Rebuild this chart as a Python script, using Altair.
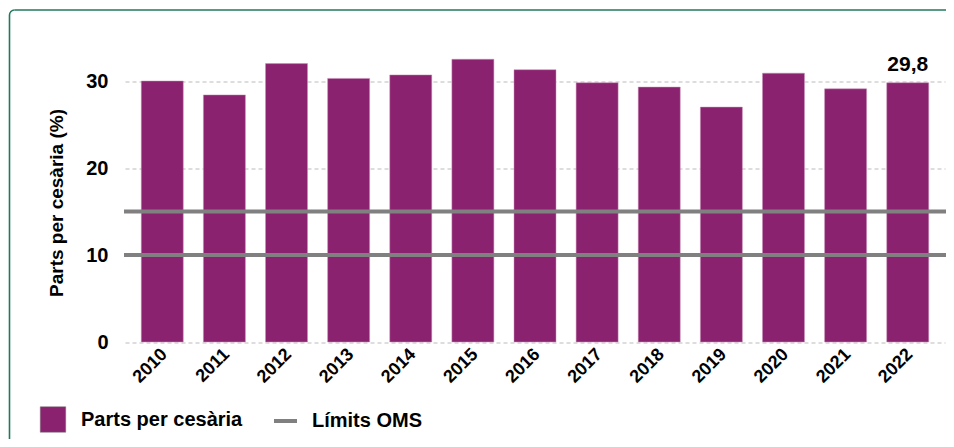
import altair as alt
import pandas as pd

years = ["2010", "2011", "2012", "2013", "2014", "2015", "2016",
         "2017", "2018", "2019", "2020", "2021", "2022"]
values = [30.0, 28.4, 32.0, 30.3, 30.7, 32.5, 31.3, 29.8, 29.3, 27.0, 30.9, 29.1, 29.8]
limits = [10, 15]
series_name = "Parts per cesària"
limit_name = "Límits OMS"
y_title = "Parts per cesària (%)"
y_ticks = [0, 10, 20, 30]
annot_year = "2022"
annot_text = "29,8"

FONT = "Liberation Sans"
PURPLE = "#8B226F"
GRAY = "#808080"
GREEN = "#1f7a5a"

df = pd.DataFrame({"year": years, "value": values, "serie": series_name})
lim_df = pd.DataFrame({"lim": limits, "serie": limit_name})
ann_df = pd.DataFrame({"year": [annot_year], "value": [values[years.index(annot_year)]],
                       "label": [annot_text]})
one = pd.DataFrame({"a": [0]})

W = 820
H = 304.5
FX, FY, R = -115.5, -27.5, 5

xenc = alt.X("year:N", sort=years,
             scale=alt.Scale(paddingInner=0.324, paddingOuter=0.262),
             axis=alt.Axis(title=None, labelAngle=-45, labelFont=FONT, labelFontSize=18,
                           labelFontWeight="bold", labelColor="#000", ticks=False,
                           domain=False, labelPadding=3, labelOffset=-4))
yenc = alt.Y("value:Q", scale=alt.Scale(domain=[0, 35], nice=False),
             axis=alt.Axis(title=y_title, values=y_ticks, labelFont=FONT, labelFontSize=20,
                           labelFontWeight="bold", labelColor="#000", titleFont=FONT,
                           titleFontSize=19, titleFontWeight="bold", titleColor="#000",
                           ticks=False, domain=False, labelPadding=17, titlePadding=19,
                           titleY=165,
                           grid=True, gridColor="#bbbbbb", gridDash=[4, 3], gridWidth=1))

frame_top = alt.Chart(one).mark_rule(stroke=GREEN, strokeWidth=1.6).encode(
    x=alt.value(FX + R), x2=alt.value(W + 1), y=alt.value(FY))
frame_left = alt.Chart(one).mark_rule(stroke=GREEN, strokeWidth=1.6).encode(
    x=alt.value(FX), y=alt.value(FY + R), y2=alt.value(H + 97))
frame_corner = alt.Chart(one).mark_arc(fill=GREEN, radius=R + 0.8, radius2=R - 0.8,
                                       theta=4.712, theta2=6.2832).encode(
    x=alt.value(FX + R), y=alt.value(FY + R))

bars = alt.Chart(df).mark_bar(stroke="#c98fb8", strokeWidth=0.5).encode(
    x=xenc, y=yenc,
    fill=alt.Fill("serie:N", scale=alt.Scale(domain=[series_name], range=[PURPLE]),
                  legend=alt.Legend(title=None, orient="none", legendX=-85, legendY=369,
                                    symbolType="square", symbolSize=650,
                                    symbolStrokeColor="#777", symbolStrokeWidth=0.5,
                                    labelFont=FONT, labelFontSize=20, labelFontWeight="bold",
                                    labelColor="#000", labelOffset=15, labelLimit=400,
                                    padding=0)))

rules = alt.Chart(lim_df).mark_rule(strokeWidth=4).encode(
    y=alt.Y("lim:Q"), x=alt.value(-1), x2=alt.value(W + 1),
    stroke=alt.Stroke("serie:N", scale=alt.Scale(domain=[limit_name], range=[GRAY]),
                      legend=alt.Legend(title=None, orient="none", legendX=147, legendY=370,
                                        symbolType="stroke", symbolSize=529,
                                        symbolStrokeWidth=4,
                                        labelFont=FONT, labelFontSize=20,
                                        labelFontWeight="bold", labelColor="#000",
                                        labelOffset=13, labelLimit=400, padding=0)))

text = alt.Chart(ann_df).mark_text(font=FONT, fontSize=21, fontWeight="bold", color="#000",
                                   dy=-18).encode(
    x=alt.X("year:N", sort=years), y=alt.Y("value:Q"), text="label:N")

chart = alt.layer(frame_top, frame_left, frame_corner, bars, rules, text).properties(
    width=W, height=H,
    background="transparent",
    autosize=alt.AutoSizeParams(type="none"),
    padding={"left": 117, "top": 29.5, "right": 1, "bottom": 97},
).configure_view(stroke=None)

chart.save("out.html", embed_options={"renderer": "svg", "actions": False})
